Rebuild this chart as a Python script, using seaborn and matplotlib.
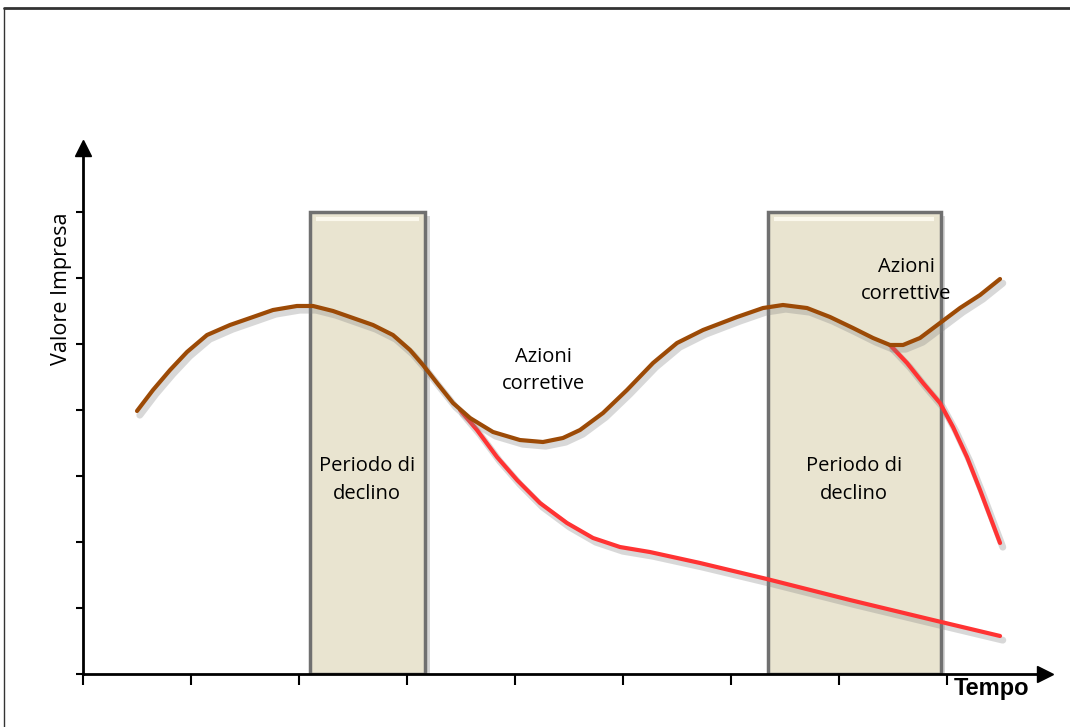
import matplotlib
matplotlib.use("Agg")
import matplotlib.pyplot as plt
import matplotlib.patheffects as pe
from matplotlib.lines import Line2D
import seaborn as sns
import pandas as pd

# Time axis ticks and value axis ticks
x_ticks = [0, 1, 2, 3, 4, 5, 6, 7, 8]
y_ticks = [0, 1, 2, 3, 4, 5, 6, 7]

# Declining periods (start, end, height)
period_start = [2.10, 6.34]
period_end = [3.17, 7.94]
period_height = [7.0, 7.0]

# Company value with corrective actions
value_t = [0.500, 0.648, 0.806, 0.963, 1.148, 1.361, 1.574, 1.759, 1.981, 2.130,
           2.315, 2.500, 2.685, 2.870, 3.028, 3.148, 3.278, 3.426, 3.583, 3.796,
           4.046, 4.259, 4.444, 4.602, 4.815, 5.037, 5.278, 5.500, 5.741, 6.056,
           6.296, 6.481, 6.704, 6.917, 7.130, 7.315, 7.472, 7.593, 7.750, 7.935,
           8.120, 8.306, 8.491]
value_v = [3.985, 4.303, 4.606, 4.879, 5.136, 5.288, 5.409, 5.515, 5.576, 5.576,
           5.500, 5.394, 5.288, 5.136, 4.909, 4.682, 4.409, 4.106, 3.879, 3.667,
           3.545, 3.515, 3.576, 3.697, 3.955, 4.303, 4.712, 5.015, 5.212, 5.409,
           5.545, 5.591, 5.545, 5.409, 5.242, 5.091, 4.985, 4.985, 5.091, 5.318,
           5.545, 5.742, 5.985]

# Value without corrective actions (first decline)
decline1_t = [3.491, 3.648, 3.833, 4.019, 4.231, 4.481, 4.722, 4.972, 5.250,
              5.713, 6.333, 7.102, 7.870, 8.491]
decline1_v = [4.000, 3.697, 3.288, 2.939, 2.591, 2.288, 2.061, 1.924, 1.848,
              1.682, 1.439, 1.121, 0.818, 0.576]

# Value without corrective actions (second decline)
decline2_t = [7.472, 7.630, 7.778, 7.935, 8.056, 8.185, 8.306, 8.491]
decline2_v = [4.985, 4.712, 4.409, 4.106, 3.742, 3.288, 2.788, 1.985]

sns.set_theme(style="white")
plt.rcParams["font.family"] = ["Open Sans", "DejaVu Sans"]
plt.rcParams["text.color"] = "black"

W, H = 1070, 727
fig = plt.figure(figsize=(W / 100, H / 100), dpi=100)
x0, x1, y0, y1 = 83, 1045, 674, 148
ax = fig.add_axes([x0 / W, (H - y0) / H, (x1 - x0) / W, (y0 - y1) / H])
ax.set_xlim(0, (x1 - x0) / 108)
ax.set_ylim(0, (y0 - y1) / 66)

shadow = [pe.SimpleLineShadow(offset=(2, -3), shadow_color="0.5", alpha=0.3, linewidth=5), pe.Normal()]

# Declining periods as bars
for s, e, h in zip(period_start, period_end, period_height):
    ax.bar(s, h, width=e - s, align="edge", color="#E9E4D0", edgecolor="#707070",
           linewidth=2.5, zorder=2,
           path_effects=[pe.SimplePatchShadow(offset=(3, -3), shadow_rgbFace="0.6", alpha=0.4), pe.Normal()])
    # bevel highlight at the top edge
    ax.plot([s + 0.06, e - 0.06], [h - 0.1, h - 0.1], color="#FBF8EC", lw=3, zorder=3, solid_capstyle="butt")

df_v = pd.DataFrame({"t": value_t, "v": value_v})
df_d1 = pd.DataFrame({"t": decline1_t, "v": decline1_v})
df_d2 = pd.DataFrame({"t": decline2_t, "v": decline2_v})

line_kw = dict(lw=3, sort=False, estimator=None, path_effects=shadow,
               solid_capstyle="round", solid_joinstyle="round")
sns.lineplot(data=df_d1, x="t", y="v", ax=ax, color="#FF3333", zorder=4, **line_kw)
sns.lineplot(data=df_d2, x="t", y="v", ax=ax, color="#FF3333", zorder=4, **line_kw)
sns.lineplot(data=df_v, x="t", y="v", ax=ax, color="#9C4A06", zorder=5, **line_kw)

# Axes styling
for side in ["top", "right"]:
    ax.spines[side].set_visible(False)
for side in ["left", "bottom"]:
    ax.spines[side].set_color("black")
    ax.spines[side].set_linewidth(2)
    ax.spines[side].set_zorder(6)
ax.set_xticks(x_ticks)
ax.set_yticks(y_ticks)
ax.set_xticklabels([])
ax.set_yticklabels([])
ax.tick_params(axis="x", direction="out", length=8, width=1.5, color="black", bottom=True)
ax.tick_params(axis="y", direction="out", length=5, width=1.5, color="black", left=True)
ax.set_xlabel("")
ax.set_ylabel("")
ax.grid(False)

# Arrow heads at axis ends
ax.plot([1], [0], marker=">", ms=11, color="black", transform=ax.transAxes, clip_on=False, zorder=7)
ax.plot([0], [1], marker="^", ms=11, color="black", transform=ax.transAxes, clip_on=False, zorder=7)

# Labels
fig.text(62 / W, 1 - 289 / H, "Valore Impresa", rotation=90, ha="center", va="center",
         fontsize=15.5)
fig.text(991 / W, 1 - 689 / H, "Tempo", ha="center", va="center", fontsize=17,
         fontweight="bold", family=["Liberation Sans Narrow", "Liberation Sans"])
txt_kw = dict(ha="center", va="center", fontsize=14.5, linespacing=1.5, zorder=8)
ax.text(2.63, 2.94, "Periodo di\ndeclino", **txt_kw)
ax.text(7.14, 2.94, "Periodo di\ndeclino", **txt_kw)
ax.text(4.26, 4.60, "Azioni\ncorretive", **txt_kw)
ax.text(7.62, 5.96, "Azioni\ncorrettive", **txt_kw)

# Outer frame
fig.add_artist(Line2D([4 / W, 1], [1 - 8 / H, 1 - 8 / H], color="#333333", lw=2))
fig.add_artist(Line2D([4 / W, 4 / W], [0, 1 - 8 / H], color="#333333", lw=1))

fig.savefig("out.png", dpi=100)
